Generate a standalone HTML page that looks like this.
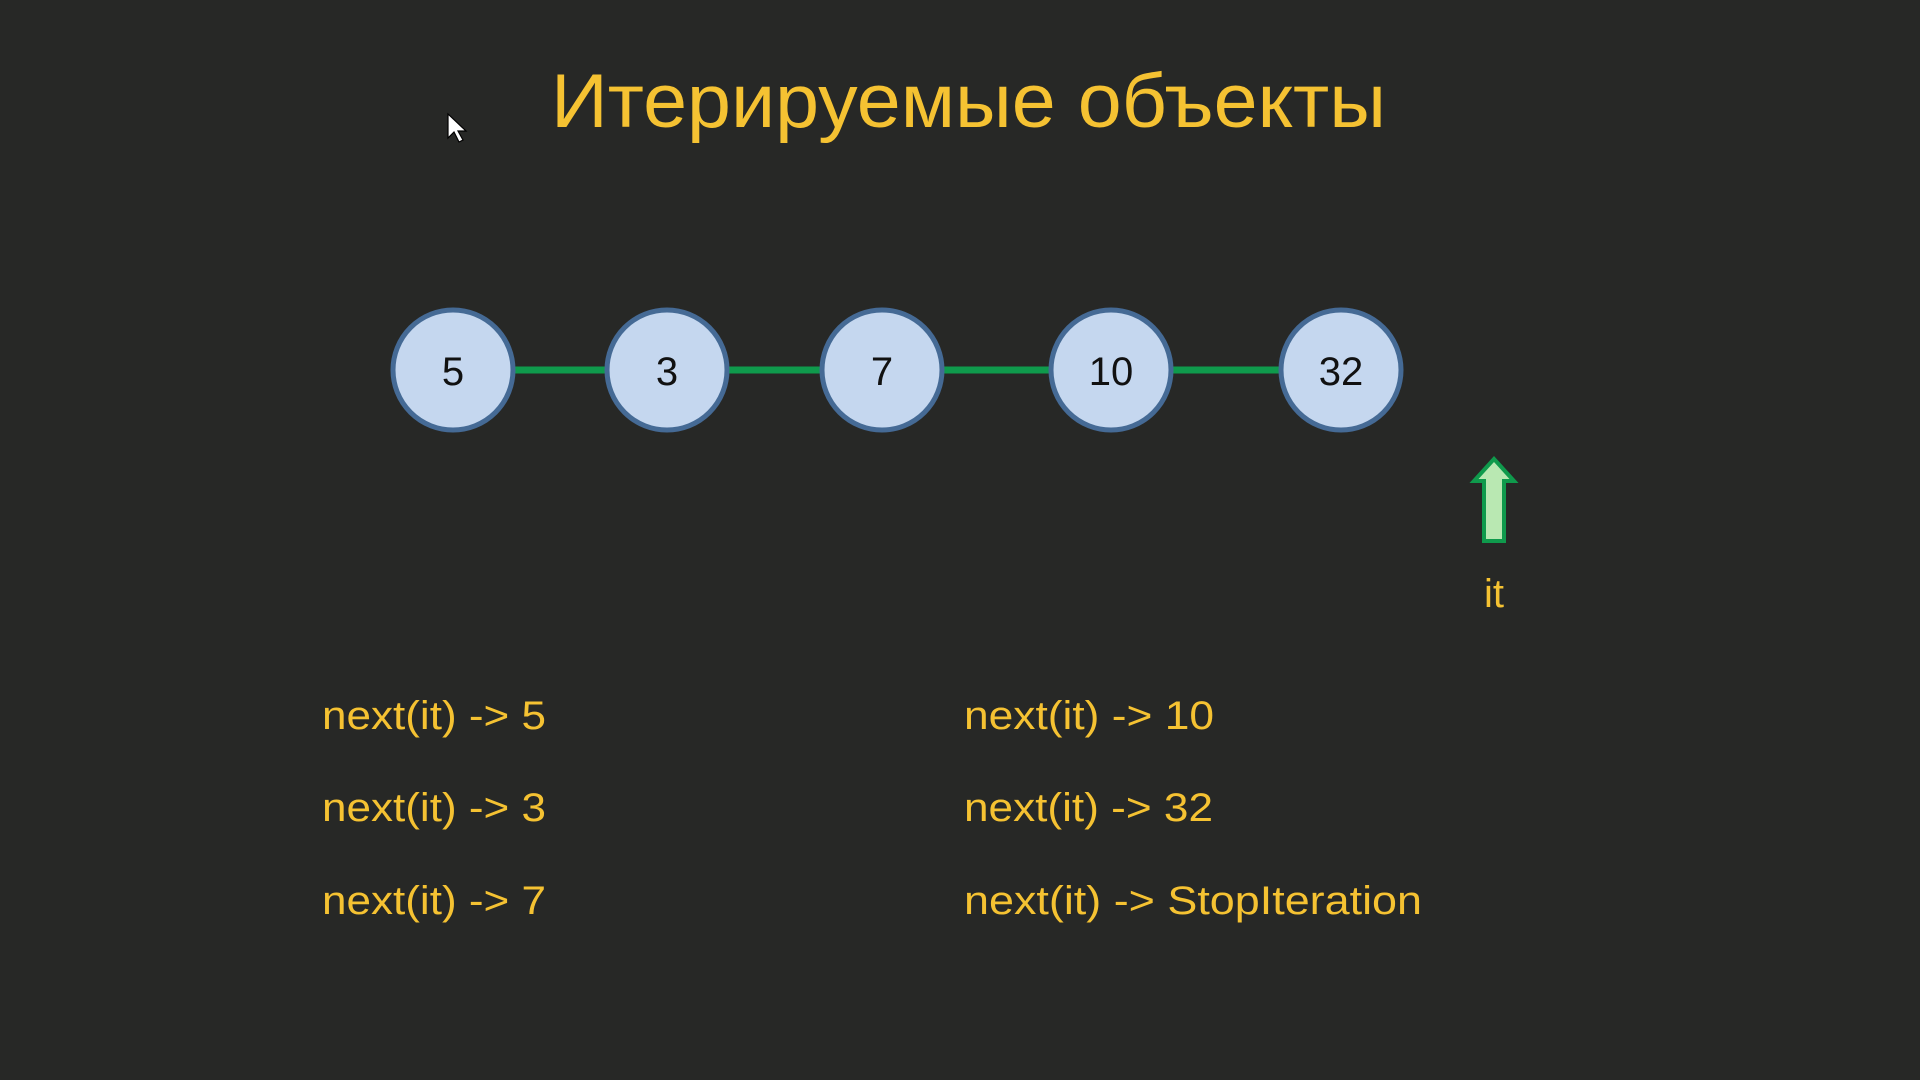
<!DOCTYPE html>
<html><head><meta charset="utf-8"><style>
html,body{margin:0;padding:0;background:#272826;width:1920px;height:1080px;overflow:hidden}
svg{display:block}
</style></head><body>
<svg width="1920" height="1080" viewBox="0 0 1920 1080" xmlns="http://www.w3.org/2000/svg">
<rect width="1920" height="1080" fill="#272826"/>
<text x="551" y="127" textLength="835" lengthAdjust="spacingAndGlyphs" font-family="Liberation Sans, DejaVu Sans, sans-serif" font-size="76" fill="#f5c232">Итерируемые объекты</text>
<path d="M448 114 L448 138 L454 132 L459 142 L463 140 L458 131 L466 131 Z" fill="#fff" stroke="#000" stroke-width="1.2"/>
<line x1="453" y1="370" x2="1341" y2="370" stroke="#0f9a4c" stroke-width="7"/>
<g fill="#c5d7ef" stroke="#456a95" stroke-width="5" >
<circle cx="453" cy="370" r="60"/>
<circle cx="667" cy="370" r="60"/>
<circle cx="882" cy="370" r="60"/>
<circle cx="1111" cy="370" r="60"/>
<circle cx="1341" cy="370" r="60"/>
</g>
<g font-family="Liberation Sans, DejaVu Sans, sans-serif" font-size="40" fill="#111" text-anchor="middle">
<text x="453" y="385">5</text>
<text x="667" y="385">3</text>
<text x="882" y="385">7</text>
<text x="1111" y="385">10</text>
<text x="1341" y="385">32</text>
</g>
<path d="M1494 459 L1514 481 L1504 481 L1504 541 L1484 541 L1484 481 L1474 481 Z" fill="#b9e8b2" stroke="#0f9a4c" stroke-width="4"/>
<text x="1494" y="607" text-anchor="middle" font-family="Liberation Sans, DejaVu Sans, sans-serif" font-size="40" fill="#f5c232">it</text>
<g font-family="Liberation Sans, DejaVu Sans, sans-serif" font-size="40" fill="#f5c232" lengthAdjust="spacingAndGlyphs">
<text x="322" y="729" textLength="224" lengthAdjust="spacingAndGlyphs">next(it) -&gt; 5</text>
<text x="322" y="821" textLength="224" lengthAdjust="spacingAndGlyphs">next(it) -&gt; 3</text>
<text x="322" y="914" textLength="224" lengthAdjust="spacingAndGlyphs">next(it) -&gt; 7</text>
<text x="964" y="729" textLength="250" lengthAdjust="spacingAndGlyphs">next(it) -&gt; 10</text>
<text x="964" y="821" textLength="249" lengthAdjust="spacingAndGlyphs">next(it) -&gt; 32</text>
<text x="964" y="914" textLength="458" lengthAdjust="spacingAndGlyphs">next(it) -&gt; StopIteration</text>
</g>
</svg>
</body></html>
